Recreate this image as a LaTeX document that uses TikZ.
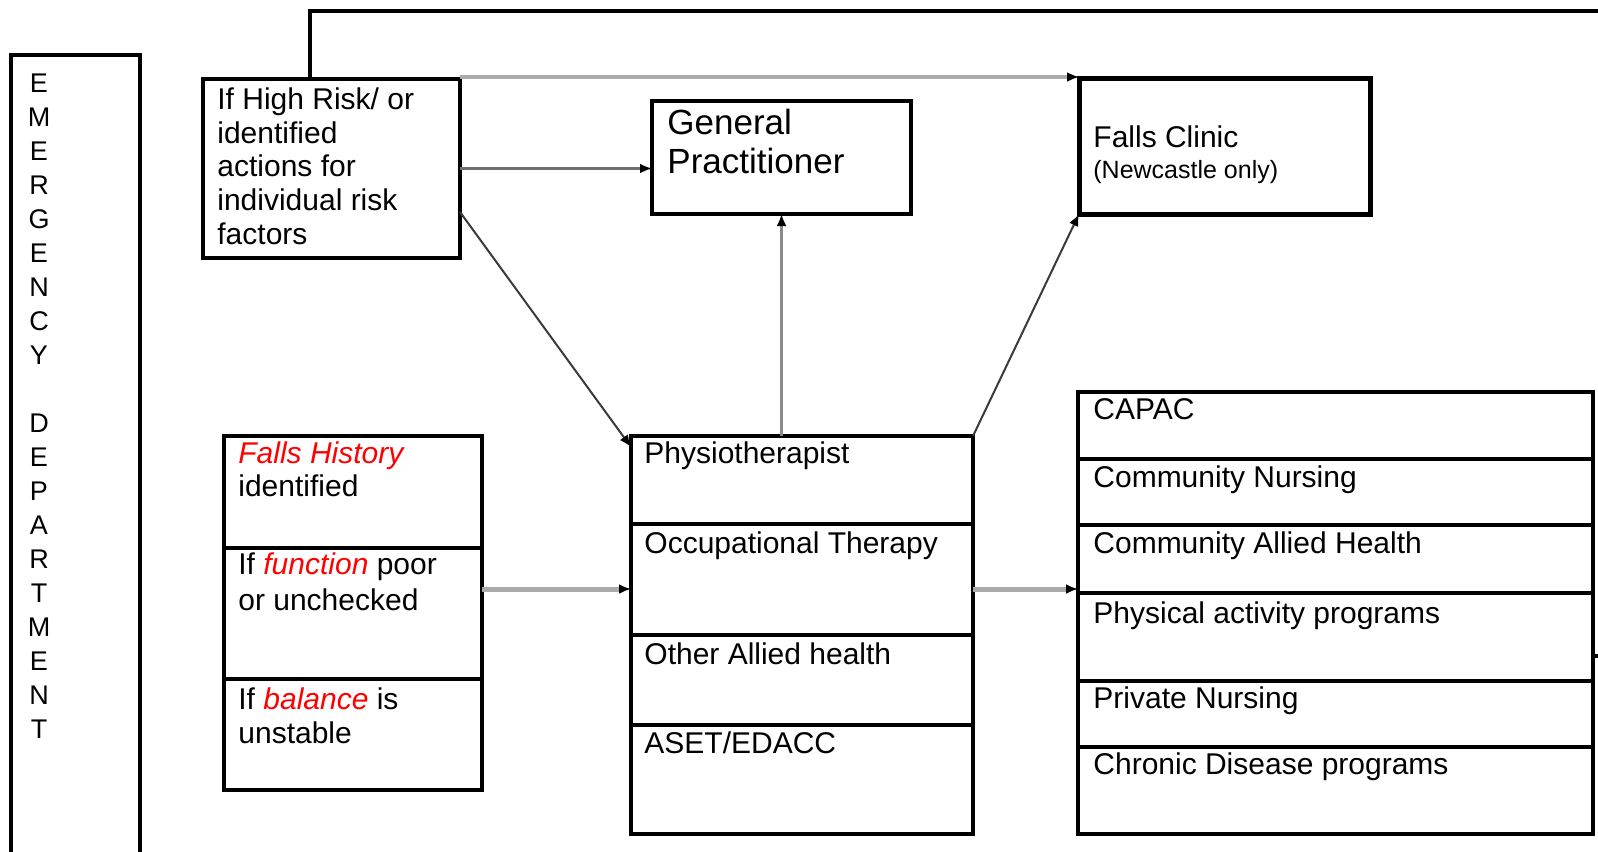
\documentclass[tikz,border=0pt]{standalone}
\usepackage{fontspec}
\setmainfont{Liberation Sans}
\usetikzlibrary{arrows.meta,positioning,calc}
\definecolor{pale}{HTML}{ABABAB}
\definecolor{mid}{HTML}{8A8A8A}
\definecolor{dim}{HTML}{6E6E6E}
\definecolor{ink}{HTML}{3A3A3A}
\newcommand{\px}{0.5pt}
\newcommand{\redit}[1]{\textcolor{red}{\itshape #1}}
\tikzset{
  cell/.style={draw, line width=1.6pt, inner sep=0pt, outer sep=0pt, anchor=north west},
  txt/.style={anchor=north west, inner sep=0pt, align=left, font=\fontsize{15}{16.8}\selectfont},
  tip/.style={-{Latex[length=6pt,width=5pt,color=black]}},
}
\begin{document}
\begin{tikzpicture}[x=0.5pt,y=-0.5pt]
\clip (0,0) rectangle (1598,851);
% side bar
\node[cell, minimum width=129*\px, minimum height=820*\px] (ed) at (11,55) {};
\node[txt, align=center, anchor=north, font=\fontsize{13.5}{17}\selectfont] (ed-t) at (39,73.3)
  {E\\M\\E\\R\\G\\E\\N\\C\\Y\\[17pt]D\\E\\P\\A\\R\\T\\M\\E\\N\\T};
% top row
\node[cell, minimum width=257*\px, minimum height=179*\px] (risk) at (203,79) {};
\node[txt] (risk-t) at (217,87.5) {If High Risk/ or\\identified\\actions for\\individual risk\\factors};
\node[cell, minimum width=259*\px, minimum height=113*\px] (gp) at (652,101) {};
\node[txt, font=\fontsize{17.5}{19.5}\selectfont] (gp-t) at (667,108.5) {General\\Practitioner};
\node[cell, line width=2.5pt, minimum width=291*\px, minimum height=136*\px] (clinic) at (1079,78) {};
\node[txt, font=\fontsize{15}{15.5}\selectfont] (clinic-t) at (1093,125) {Falls Clinic\\{\fontsize{12.5}{15.5}\selectfont (Newcastle only)}};
% left column
\foreach \nm/\y/\h/\dy/\lbl in {hist/436/112/5/{\redit{Falls History}\\identified},
    func/548/131/4.5/{If \redit{function} poor\\[1pt]or unchecked},
    bal/679/111/8.5/{If \redit{balance} is\\unstable}}
{
  \node[cell, minimum width=258*\px, minimum height=\h*\px] (\nm) at (224,\y) {};
  \node[txt] (\nm-t) at ([shift={(14,\dy)}]\nm.north west) {\lbl};
}
% middle column
\foreach \nm/\y/\h/\dy/\lbl in {physio/436/88/5.5/Physiotherapist, ot/524/111/7.5/Occupational Therapy,
    allied/635/90/7.5/Other Allied health, aset/725/109/6/{ASET/EDACC}}
{
  \node[cell, minimum width=342*\px, minimum height=\h*\px] (\nm) at (631,\y) {};
  \node[txt] (\nm-t) at ([shift={(13,\dy)}]\nm.north west) {\lbl};
}
% right column
\foreach \nm/\y/\h/\dy/\lbl in {capac/392/67/6.5/CAPAC, cnurse/459/66/6.5/Community Nursing,
    cah/525/68/6.5/Community Allied Health, pap/593/88/8.5/Physical activity programs,
    pnurse/681/66/5.5/Private Nursing, chronic/747/87/5.5/Chronic Disease programs}
{
  \node[cell, minimum width=515*\px, minimum height=\h*\px] (\nm) at (1078,\y) {};
  \node[txt] (\nm-t) at ([shift={(15,\dy)}]\nm.north west) {\lbl};
}
% connectors
\draw[pale, line width=2pt, tip] ([yshift=1pt]risk.north east) -- ([yshift=1pt]risk.north east -| clinic.west);
\draw[dim, line width=1.2pt, tip] (risk.east) -- (risk.east -| gp.west);
\draw[ink, line width=1pt, tip] ([yshift=23pt]risk.south east) -- ([yshift=-5.5pt]physio.north west);
\draw[mid, line width=1.5pt, tip] (physio.north -| gp.south) -- (gp.south);
\draw[ink, line width=1pt, tip] (physio.north east) -- (clinic.south west);
\coordinate (flow) at ([yshift=12.25pt]func.east);
\draw[pale, line width=2.5pt, tip] (flow) -- (flow -| ot.west);
\draw[pale, line width=2.5pt, tip] (flow -| ot.east) -- (flow -| cah.west);
% return line
\coordinate (back) at (1610,11);
\draw[line width=1.6pt] ([xshift=-10.75pt]risk.north) |- (back);
\coordinate (stub) at (1610,656);
\draw[line width=1.6pt] (stub -| pap.east) -- (stub);
\end{tikzpicture}
\end{document}
